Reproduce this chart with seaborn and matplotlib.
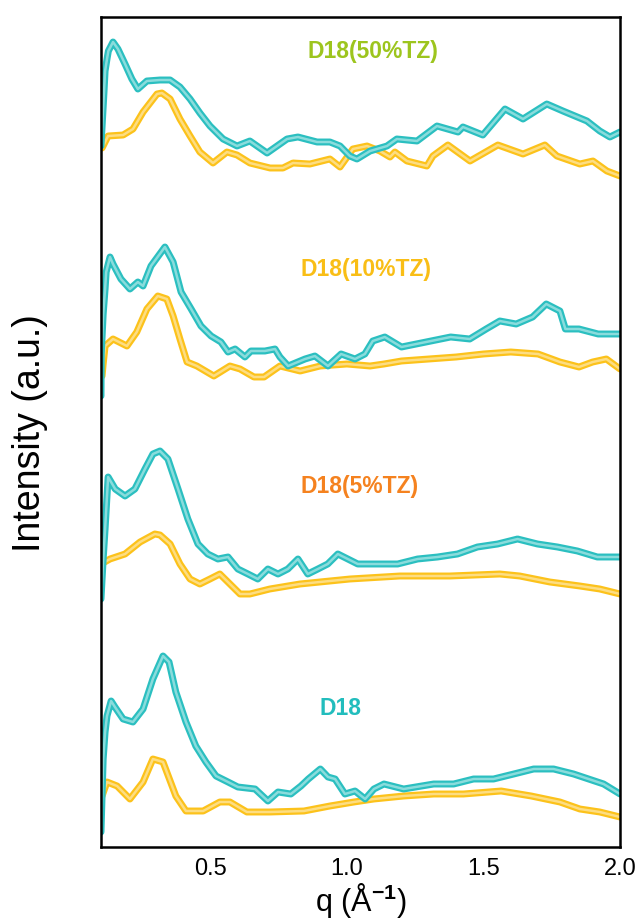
import matplotlib
matplotlib.use("Agg")
import matplotlib.pyplot as plt
import seaborn as sns
import pandas as pd
import numpy as np
from matplotlib.ticker import MultipleLocator
from matplotlib.colors import to_rgb

# ---------------- data (q in 1/A, intensity in a.u. incl. stacking offset) -------------
# D18(50%TZ)
q_50_teal = [0.100, 0.111, 0.115, 0.122, 0.127, 0.144, 0.162, 0.188, 0.213, 0.235, 0.268, 0.316,
             0.353, 0.389, 0.426, 0.462, 0.499, 0.547, 0.598, 0.645, 0.708, 0.781, 0.821, 0.891,
             0.938, 0.975, 1.011, 1.037, 1.085, 1.147, 1.183, 1.257, 1.330, 1.407, 1.425, 1.498,
             1.579, 1.645, 1.732, 1.791, 1.879, 1.926, 1.963, 2.000]
i_50_teal = [701, 755, 776, 788, 796, 805, 798, 783, 768, 758, 766, 767,
             767, 760, 748, 734, 721, 708, 701, 706, 694, 708, 710, 705,
             705, 701, 691, 688, 696, 701, 708, 706, 721, 715, 720, 712,
             738, 728, 743, 736, 726, 716, 710, 715]
q_50_yel = [0.104, 0.126, 0.181, 0.217, 0.254, 0.305, 0.323, 0.353, 0.389, 0.426, 0.462, 0.510,
            0.561, 0.598, 0.645, 0.719, 0.766, 0.803, 0.865, 0.938, 0.975, 1.022, 1.074, 1.121,
            1.158, 1.176, 1.220, 1.293, 1.315, 1.370, 1.451, 1.553, 1.645, 1.725, 1.769, 1.853,
            1.901, 1.952, 2.000]
i_50_yel = [699, 711, 712, 718, 735, 753, 754, 748, 728, 711, 695, 684,
            695, 692, 684, 679, 679, 684, 683, 688, 680, 698, 701, 696,
            690, 695, 686, 681, 691, 702, 686, 702, 693, 702, 691, 683,
            686, 676, 671]

# D18(10%TZ)
q_10_teal = [0.100, 0.101, 0.108, 0.115, 0.119, 0.133, 0.144, 0.173, 0.206, 0.235, 0.254, 0.283,
             0.334, 0.364, 0.393, 0.430, 0.466, 0.503, 0.539, 0.565, 0.591, 0.627, 0.649, 0.700,
             0.737, 0.755, 0.785, 0.847, 0.883, 0.931, 0.979, 1.030, 1.066, 1.095, 1.139, 1.200,
             1.290, 1.380, 1.450, 1.510, 1.560, 1.620, 1.680, 1.730, 1.780, 1.800, 1.850, 1.920,
             2.000]
i_10_teal = [451, 493, 533, 558, 575, 590, 583, 568, 558, 565, 561, 581,
             600, 585, 555, 538, 521, 511, 505, 495, 498, 490, 496, 496,
             498, 490, 481, 488, 491, 481, 493, 488, 493, 506, 510, 500,
             505, 510, 508, 518, 526, 523, 530, 543, 536, 518, 518, 513,
             513]
q_10_yel = [0.104, 0.108, 0.115, 0.144, 0.195, 0.231, 0.268, 0.308, 0.341, 0.364, 0.389, 0.415,
            0.451, 0.513, 0.572, 0.609, 0.660, 0.697, 0.755, 0.829, 0.902, 1.000, 1.085, 1.136,
            1.200, 1.300, 1.400, 1.500, 1.600, 1.700, 1.780, 1.850, 1.900, 1.950, 2.000]
i_10_yel = [471, 483, 501, 508, 501, 515, 538, 551, 548, 531, 508, 485,
            481, 471, 481, 478, 470, 470, 481, 476, 481, 483, 481, 483,
            486, 488, 490, 493, 495, 493, 485, 480, 485, 488, 478]

# D18(5%TZ)
q_5_teal = [0.100, 0.108, 0.115, 0.126, 0.152, 0.188, 0.224, 0.261, 0.290, 0.316, 0.345, 0.382,
            0.418, 0.455, 0.491, 0.528, 0.565, 0.601, 0.638, 0.674, 0.711, 0.748, 0.784, 0.821,
            0.857, 0.894, 0.930, 0.967, 1.040, 1.113, 1.186, 1.259, 1.332, 1.405, 1.478, 1.552,
            1.625, 1.698, 1.771, 1.844, 1.917, 2.000]
i_5_teal = [248, 288, 318, 370, 358, 351, 358, 378, 393, 396, 388, 358,
            328, 303, 293, 288, 290, 278, 273, 268, 278, 273, 278, 288,
            273, 278, 283, 293, 283, 283, 283, 288, 290, 293, 300, 303,
            308, 303, 300, 296, 290, 290]
q_5_yel = [0.100, 0.133, 0.188, 0.243, 0.297, 0.316, 0.353, 0.389, 0.426, 0.462, 0.499, 0.535,
           0.572, 0.609, 0.645, 0.718, 0.828, 1.011, 1.194, 1.377, 1.560, 1.633, 1.743, 1.853,
           1.926, 2.000]
i_5_yel = [283, 288, 293, 305, 313, 312, 303, 283, 268, 263, 268, 273,
           263, 253, 253, 258, 263, 268, 271, 271, 273, 271, 265, 261,
           258, 253]

# D18
q_0_teal = [0.100, 0.108, 0.115, 0.122, 0.137, 0.151, 0.181, 0.217, 0.254, 0.290, 0.327, 0.349,
            0.374, 0.411, 0.447, 0.484, 0.521, 0.565, 0.601, 0.664, 0.711, 0.748, 0.795, 0.832,
            0.859, 0.903, 0.931, 0.957, 0.993, 1.030, 1.067, 1.099, 1.136, 1.208, 1.318, 1.391,
            1.464, 1.537, 1.611, 1.684, 1.757, 1.830, 1.885, 1.940, 2.000]
i_0_teal = [15, 88, 115, 131, 146, 140, 128, 125, 138, 168, 191, 185,
            155, 125, 101, 85, 71, 65, 60, 58, 46, 55, 53, 61,
            68, 78, 70, 68, 53, 56, 48, 58, 63, 58, 63, 63,
            68, 68, 73, 78, 78, 73, 68, 63, 53]
q_0_yel = [0.104, 0.122, 0.159, 0.206, 0.254, 0.290, 0.327, 0.374, 0.411, 0.474, 0.535, 0.572,
           0.634, 0.718, 0.843, 0.938, 1.026, 1.099, 1.208, 1.318, 1.427, 1.565, 1.675, 1.780,
           1.853, 1.926, 2.000]
i_0_yel = [51, 65, 61, 48, 65, 88, 85, 51, 36, 36, 45, 45,
           35, 35, 36, 41, 45, 48, 51, 53, 53, 56, 51, 45,
           38, 35, 30]

labels = ["D18(50%TZ)", "D18(10%TZ)", "D18(5%TZ)", "D18"]
label_q = [1.094, 1.070, 1.048, 0.977]
label_i = [796, 578, 361, 139]
label_colors = ["#9DC51E", "#F9BE16", "#F5821F", "#22BDBD"]

TEAL = "#2BBFC0"
YELLOW = "#FCC21B"

curves = [
    (q_50_yel, i_50_yel, YELLOW), (q_50_teal, i_50_teal, TEAL),
    (q_10_yel, i_10_yel, YELLOW), (q_10_teal, i_10_teal, TEAL),
    (q_5_yel, i_5_yel, YELLOW), (q_5_teal, i_5_teal, TEAL),
    (q_0_yel, i_0_yel, YELLOW), (q_0_teal, i_0_teal, TEAL),
]

# ---------------- plot -------------------------------------------------------------
sns.set_style("white")
plt.rcParams["font.family"] = ["Liberation Sans", "DejaVu Sans"]
plt.rcParams["mathtext.fontset"] = "custom"
plt.rcParams["mathtext.rm"] = "Liberation Sans"
plt.rcParams["mathtext.bf"] = "Liberation Sans:bold"

fig = plt.figure(figsize=(6.39, 9.2), dpi=100)
ax = fig.add_axes([101 / 639, 1 - 848 / 920, (620 - 101) / 639, (848 - 18) / 920])


def lighten(c, f):
    r, g, b = to_rgb(c)
    return (r + (1 - r) * f, g + (1 - g) * f, b + (1 - b) * f)


for q, inten, col in curves:
    df = pd.DataFrame({"q": q, "I": inten})
    sns.lineplot(data=df, x="q", y="I", ax=ax, color=col, linewidth=5.0,
                 sort=False, estimator=None, solid_capstyle="round", solid_joinstyle="round")
    sns.lineplot(data=df, x="q", y="I", ax=ax, color=lighten(col, 0.45), linewidth=1.8,
                 sort=False, estimator=None, solid_joinstyle="round")

for lab, lq, li, lc in zip(labels, label_q, label_i, label_colors):
    ax.text(lq, li, lab, color=lc, fontsize=16.5, fontweight="bold", ha="center", va="center")

ax.set_xlim(0.1, 2.0)
ax.set_ylim(0, 830)
ax.xaxis.set_major_locator(MultipleLocator(0.5))
ax.xaxis.set_minor_locator(MultipleLocator(0.25))
ax.set_xticks([0.5, 1.0, 1.5, 2.0])
ax.set_xticklabels(["0.5", "1.0", "1.5", "2.0"])
ax.set_yticks([])
ax.tick_params(axis="x", which="major", direction="in", length=6, width=1.5,
               labelsize=17, pad=7, top=False, colors="black")
ax.tick_params(axis="x", which="minor", direction="in", length=4, width=1.5, top=False)
for s in ax.spines.values():
    s.set_linewidth(1.8)
    s.set_color("black")

ax.set_xlabel(r"q (Å$^{\mathbf{-1}}$)", fontsize=22, labelpad=1, color="black")
ax.set_ylabel("Intensity (a.u.)", fontsize=27, labelpad=38, color="black")

fig.savefig("out.png", dpi=100)
